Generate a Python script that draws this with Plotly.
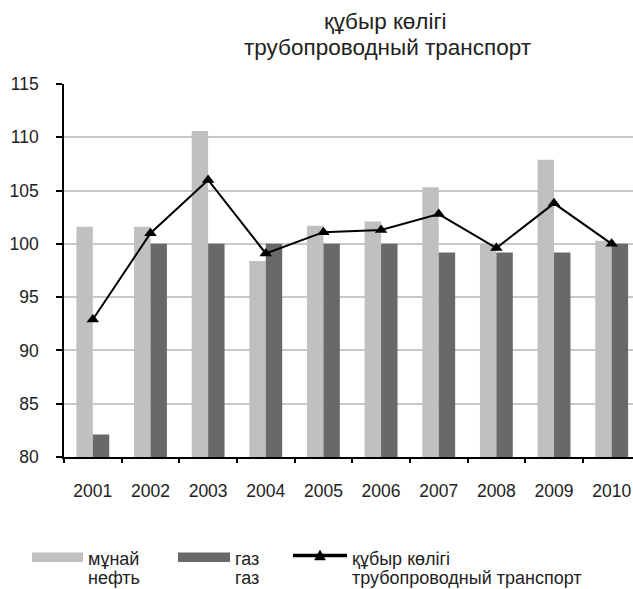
import plotly.graph_objects as go

years = ["2001", "2002", "2003", "2004", "2005", "2006", "2007", "2008", "2009", "2010"]
oil = [101.6, 101.6, 110.6, 98.4, 101.7, 102.1, 105.3, 100.0, 107.9, 100.3]
gas = [82.1, 100.0, 100.0, 100.0, 100.0, 100.0, 99.2, 99.2, 99.2, 100.0]
pipeline = [92.9, 101.0, 106.0, 99.1, 101.1, 101.3, 102.8, 99.6, 103.8, 100.0]

title_lines = ["құбыр көлігі", "трубопроводный транспорт"]
oil_lines = ["мұнай", "нефть"]
gas_lines = ["газ", "газ"]
pipe_lines = ["құбыр көлігі", "трубопроводный транспорт"]

W, H = 633, 589
ML, MR, MT, MB = 64, 0, 84, 132
PW = W - ML - MR
PH = H - MT - MB
BOTTOM = H - MB


def px(x):
    return (x - ML) / PW


def py(y):
    return (BOTTOM - y) / PH


LIGHT = "#c0c0c0"
DARK = "#696969"
TXT = "#222222"
FONT = "Liberation Sans, Arial, sans-serif"

fig = go.Figure()
fig.add_trace(go.Bar(x=years, y=oil, name="мұнай", marker=dict(color=LIGHT, line=dict(width=0)),
                     showlegend=False))
fig.add_trace(go.Bar(x=years, y=gas, name="газ", marker=dict(color=DARK, line=dict(width=0)),
                     showlegend=False))
fig.add_trace(go.Scatter(x=years, y=pipeline, mode="lines+markers", name="құбыр көлігі",
                         line=dict(color="black", width=2),
                         marker=dict(symbol="triangle-up", size=11, color="black"),
                         showlegend=False))

shapes = [
    dict(type="rect", xref="paper", yref="paper", x0=px(32), x1=px(83), y0=py(562), y1=py(552.5),
         fillcolor=LIGHT, line=dict(width=0)),
    dict(type="rect", xref="paper", yref="paper", x0=px(178), x1=px(230), y0=py(562), y1=py(552.5),
         fillcolor=DARK, line=dict(width=0)),
    dict(type="line", xref="paper", yref="paper", x0=px(293), x1=px(347), y0=py(555.5), y1=py(555.5),
         line=dict(color="black", width=3.5)),
    dict(type="path", xref="paper", yref="paper",
         path=f"M {px(314.5)} {py(560)} L {px(325.5)} {py(560)} L {px(320)} {py(550)} Z",
         fillcolor="black", line=dict(color="black", width=0.5)),
]


def ann(text, x, y, size, anchor="left"):
    return dict(text=text, xref="paper", yref="paper", x=px(x), y=py(y), xanchor=anchor,
                yanchor="middle", showarrow=False, font=dict(family=FONT, size=size, color=TXT))


annotations = [
    ann(title_lines[0], 385, 22, 22.5, "center"),
    ann(title_lines[1], 387.5, 47.5, 22.5, "center"),
    ann(oil_lines[0], 86, 559, 18),
    ann(oil_lines[1], 86, 578, 18),
    ann(gas_lines[0], 233, 559, 18),
    ann(gas_lines[1], 233, 578, 18),
    ann(pipe_lines[0], 350, 559, 18),
    ann(pipe_lines[1], 350, 578, 18),
]

fig.update_layout(
    width=W, height=H,
    margin=dict(l=ML, r=MR, t=MT, b=MB, pad=0),
    paper_bgcolor="white", plot_bgcolor="white",
    barmode="group", bargap=0.43, bargroupgap=0,
    font=dict(family=FONT, size=17.5, color=TXT),
    showlegend=False,
    shapes=shapes,
    annotations=annotations,
)
fig.update_xaxes(
    type="category", range=[-0.5, 9.37],
    showline=True, linecolor="black", linewidth=1.5,
    ticks="outside", tickson="boundaries", ticklen=4, tickcolor="black", tickwidth=1.5,
    showgrid=False, tickfont=dict(family=FONT, size=17.5, color=TXT),
    ticklabelstandoff=17,
)
fig.update_yaxes(
    range=[80, 115], tickvals=[80, 85, 90, 95, 100, 105, 110, 115],
    showline=True, linecolor="black", linewidth=1.5,
    ticks="outside", ticklen=6, tickcolor="black", tickwidth=1.5,
    showgrid=True, gridcolor="#c8c8c8", gridwidth=1.5,
    zeroline=False, tickfont=dict(family=FONT, size=17.5, color=TXT),
    ticklabelstandoff=14,
)

fig.write_html("out.html", config={"displayModeBar": False},
               post_script="document.body.style.margin='0';document.body.style.overflow='hidden';")
